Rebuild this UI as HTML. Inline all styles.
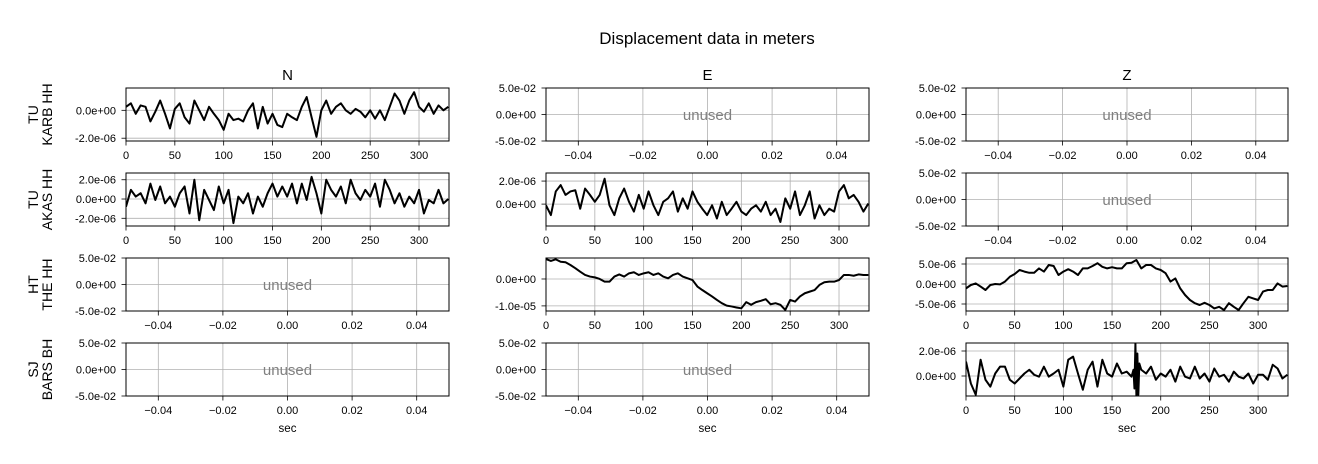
<!DOCTYPE html>
<html><head><meta charset="utf-8"><style>
html,body{margin:0;padding:0;background:#fff;}
svg{display:block;font-family:"Liberation Sans","DejaVu Sans",sans-serif;}
</style></head><body>
<svg id="fig" width="1318" height="464" viewBox="0 0 1318 464" xmlns="http://www.w3.org/2000/svg">
<rect width="1318" height="464" fill="#fff"/>
<text x="707" y="44" font-size="17" text-anchor="middle">Displacement data in meters</text>
<text x="287.5" y="80" font-size="15" text-anchor="middle">N</text>
<text x="707.5" y="80" font-size="15" text-anchor="middle">E</text>
<text x="1127" y="80" font-size="15" text-anchor="middle">Z</text>
<g id="panels"></g>
</svg>
<script>
const stations = ["TU\nKARB HH","TU\nAKAS HH","HT\nTHE HH","SJ\nBARS BH"];
// values in units of 1e-6 m, sampled every 5 s from 0 to 330 s
const karbN = [0.25,0.5,-0.25,0.35,0.25,-0.8,-0.1,0.7,-0.25,-1.3,0.1,0.5,-0.5,-0.95,0.7,0,-0.7,0.25,-0.25,-0.7,-1.4,-0.25,-0.7,-0.6,-0.8,0,0.5,-1.3,0.25,-0.95,-0.25,-1.05,-1.2,-0.25,-0.5,-0.7,0.25,0.95,-0.5,-1.9,0,0.7,-0.25,0.25,0.5,0,-0.25,0.1,-0.1,-0.5,0,-0.6,0,-0.7,0.25,1.2,0.7,-0.25,0.7,1.3,0.25,-0.1,0.5,-0.25,0.35,0,0.25];
const akasN = [-0.8,0.95,0.25,0.6,-0.45,1.6,-0.1,1.3,-0.45,0.25,-0.8,0.6,1.3,-1.5,2.0,-2.2,0.95,-0.1,-1.15,1.3,-0.45,0.95,-2.5,0.25,-0.45,0.6,-1.5,0.25,-0.8,0.6,1.6,0.25,1.3,0.25,1.6,-0.45,1.6,-0.1,2.3,0.6,-1.5,2.0,0.95,0.25,1.3,-0.45,2.0,0.6,-0.1,0.95,0.25,1.6,-0.8,2.0,0.95,-0.45,0.6,-0.8,0.25,-0.45,0.95,-1.5,-0.1,-0.45,0.95,-0.45,0];
const akasE = [-0.1,-0.95,1.1,1.65,0.8,1.1,1.2,-0.4,1.35,0.8,0.2,0.8,2.2,-0.1,-0.95,0.5,1.35,0.2,-0.65,0.8,-0.4,1.1,-0.1,-0.95,0.2,0.5,1.1,-0.65,0.5,-0.4,1.1,0.2,-0.4,-0.95,-0.1,-1.25,0.2,-0.95,-0.4,0.2,-0.65,-0.95,-0.4,-0.1,-0.65,0.2,-0.95,-0.4,-1.55,0.5,-0.4,1.1,-0.95,-0.1,1.1,-1.25,-0.1,-0.95,-0.4,-0.65,1.1,1.65,0.5,0.8,0.2,-0.65,0.05];
const theE = [7.4,6.7,7.3,6.4,6.2,5.2,4.0,2.7,1.5,0.9,0.6,0,-1.0,-1.0,0.9,1.7,0.9,2.1,2.5,1.5,2.1,2.5,1.5,2.1,0.9,0.25,1.5,2.1,0.9,0.25,-0.4,-2.8,-4.1,-5.3,-6.5,-7.8,-9,-9.9,-10.2,-10.6,-10.9,-8.6,-9.6,-8.6,-8.1,-7.5,-9.4,-9,-9.6,-11.5,-7.8,-8.4,-6.5,-5.3,-4.7,-4.1,-2.2,-1.2,-1.0,-1.0,-0.4,1.5,1.5,1.2,1.7,1.5,1.5];
const theZ = [-1.1,-0.25,0.15,-0.65,-1.5,-0.25,0,-0.1,0.6,1.8,2.5,3.5,3.1,2.8,2.8,3.9,3.1,4.75,4.5,2.25,3.1,3.7,3.1,2.25,3.9,3.9,4.5,5.2,4.3,3.9,4.2,3.9,3.9,5.2,5.3,6,3.9,4.75,4.75,3.9,3.5,2.7,0.6,1.4,-1.1,-2.75,-4,-4.8,-5.25,-4.7,-5.25,-6.1,-5.7,-6.5,-4.8,-5.7,-6.5,-4.8,-3.2,-3.6,-4,-1.9,-1.5,-1.5,0.15,-0.65,-0.5];
const barsZTimes = [0,5,10,15,20,25,30,35,40,45,50,55,60,65,70,75,80,85,90,95,100,105,110,115,120,125,130,135,140,145,150,155,160,165,170,172,173,174,175,176,177,178,180,185,190,195,200,205,210,215,220,225,230,235,240,245,250,255,260,265,270,275,280,285,290,295,300,305,310,315,320,325,330];
const barsZ = [1.15,-0.6,-1.5,1.3,-0.3,-0.85,0.2,0.75,0.75,-0.3,-0.6,-0.2,0.2,0.5,0.1,-0.05,0.75,-0.05,0.2,0.5,-0.85,1.3,1.55,0.2,-1.1,0.5,1.15,-0.85,1.3,0.2,-0.05,1.0,0.2,0.35,-0.05,0.5,-1.0,2.6,-1.6,1.8,-1.5,1.0,0.5,0.2,0.75,-0.3,0.2,-0.05,0.5,-0.45,0.75,-0.05,-0.2,0.75,-0.2,0.2,-0.45,0.6,-0.05,0.1,-0.45,0.35,-0.05,-0.2,0.2,-0.6,0.1,0.1,-0.3,0.9,0.6,-0.2,0.1];
const timeTicks = [0,50,100,150,200,250,300];
const unusedXTicks = [-0.04,-0.02,0.00,0.02,0.04];
const unusedXLabels = ["\u22120.04","\u22120.02","0.00","0.02","0.04"];
const unusedYTicks = [0.05,0,-0.05];
const unusedYLabels = ["5.0e-02","0.0e+00","-5.0e-02"];

const NS = "http://www.w3.org/2000/svg";
const root = document.getElementById("panels");
const colX = [126,546,966], colW = [323,323,322];
const rowY = [88,173,258,343], rowH = 53;

function mk(tag, attrs, parent){
  const e = document.createElementNS(NS, tag);
  for (const k in attrs) e.setAttribute(k, attrs[k]);
  parent.appendChild(e); return e;
}
function step5(n){ const t=[]; for(let i=0;i<n;i++) t.push(i*5); return t; }

const panels = [
  {r:0,c:0,name:"karb-n",t:null,v:karbN,ymin:-2.2,ymax:1.6,yt:[0,-2],yl:["0.0e+00","-2.0e-06"]},
  {r:1,c:0,name:"akas-n",t:null,v:akasN,ymin:-2.8,ymax:2.7,yt:[2,0,-2],yl:["2.0e-06","0.0e+00","-2.0e-06"]},
  {r:1,c:1,name:"akas-e",t:null,v:akasE,ymin:-1.9,ymax:2.7,yt:[2,0],yl:["2.0e-06","0.0e+00"]},
  {r:2,c:1,name:"the-e",t:null,v:theE,ymin:-11.9,ymax:7.8,yt:[0,-10],yl:["0.0e+00","-1.0e-05"]},
  {r:2,c:2,name:"the-z",t:null,v:theZ,ymin:-6.75,ymax:6.5,yt:[5,0,-5],yl:["5.0e-06","0.0e+00","-5.0e-06"]},
  {r:3,c:2,name:"bars-z",t:barsZTimes,v:barsZ,ymin:-1.6,ymax:2.64,yt:[2,0],yl:["2.0e-06","0.0e+00"]},
  {r:0,c:1,name:"karb-e",unused:true},{r:0,c:2,name:"karb-z",unused:true},
  {r:1,c:2,name:"akas-z",unused:true},{r:2,c:0,name:"the-n",unused:true},
  {r:3,c:0,name:"bars-n",unused:true},{r:3,c:1,name:"bars-e",unused:true}
];

panels.forEach(p=>{
  const x0=colX[p.c], w=colW[p.c], y0=rowY[p.r], h=rowH;
  const g = mk("g",{},root);
  
  
  let xs, ys, xt, xl, yt, yl;
  if (p.unused){
    xs = v => x0 + (v+0.05)/0.1*w;
    ys = v => y0 + (0.05-v)/0.1*h;
    xt = unusedXTicks; xl = unusedXLabels; yt = unusedYTicks; yl = unusedYLabels;
  } else {
    xs = v => x0 + v/330.7*w;
    ys = v => y0 + (p.ymax-v)/(p.ymax-p.ymin)*h;
    xt = timeTicks; xl = timeTicks.map(String); yt = p.yt; yl = p.yl;
  }
  xt.forEach(v=>{ const l=mk("line",{x1:xs(v),x2:xs(v),y1:y0,y2:y0+h,stroke:"#b0b0b0","stroke-width":0.8},g);
      });
  yt.forEach(v=>{ const l=mk("line",{x1:x0,x2:x0+w,y1:ys(v),y2:ys(v),stroke:"#b0b0b0","stroke-width":0.8},g);
      });
  if (!p.unused){
    const t = p.t || step5(p.v.length);
    const d = p.v.map((v,i)=>(i?"L":"M")+xs(t[i]).toFixed(2)+","+ys(v).toFixed(2)).join("");
    const cp = mk("clipPath",{id:"cp-"+p.name},g);
    mk("rect",{x:x0,y:y0,width:w,height:h},cp);
    const path = mk("path",{d:d,fill:"none",stroke:"#000","stroke-width":2,"stroke-linejoin":"round","clip-path":"url(#cp-"+p.name+")"},g);
    
    
  } else {
    const u = mk("text",{x:x0+w/2,y:y0+h/2+5.5,"font-size":15,fill:"#808080","text-anchor":"middle"},g);
    u.textContent="unused";
    
    
  }
  const fr = mk("rect",{x:x0,y:y0,width:w,height:h,fill:"none",stroke:"#000","stroke-width":1},g);
  
  
  xt.forEach((v,i)=>{
    mk("line",{x1:xs(v),x2:xs(v),y1:y0+h,y2:y0+h+4.5,stroke:"#000","stroke-width":0.8},g);
    const tx = mk("text",{x:xs(v),y:y0+h+18,"font-size":11,"text-anchor":"middle"},g);
    tx.textContent = xl[i];
    
    
  });
  yt.forEach((v,i)=>{
    mk("line",{x1:x0-4.5,x2:x0,y1:ys(v),y2:ys(v),stroke:"#000","stroke-width":0.8},g);
    const ty = mk("text",{x:x0-10,y:ys(v)+4,"font-size":11,"text-anchor":"end"},g);
    ty.textContent = yl[i];
    
    
  });
  if (p.r===3){
    const s = mk("text",{x:x0+w/2,y:432,"font-size":11.5,"text-anchor":"middle"},g);
    s.textContent="sec";
    
    
  }
});
stations.forEach((s,r)=>{
  const parts = s.split("\n");
  const cy = rowY[r]+rowH/2;
  parts.forEach((txt,j)=>{
    const x = 38 + j*14;
    const t = mk("text",{x:x,y:cy,"font-size":14,"text-anchor":"middle",transform:"rotate(-90 "+x+" "+cy+")"},root);
    t.textContent = txt;
    
    
  });
});
</script>
</body></html>
